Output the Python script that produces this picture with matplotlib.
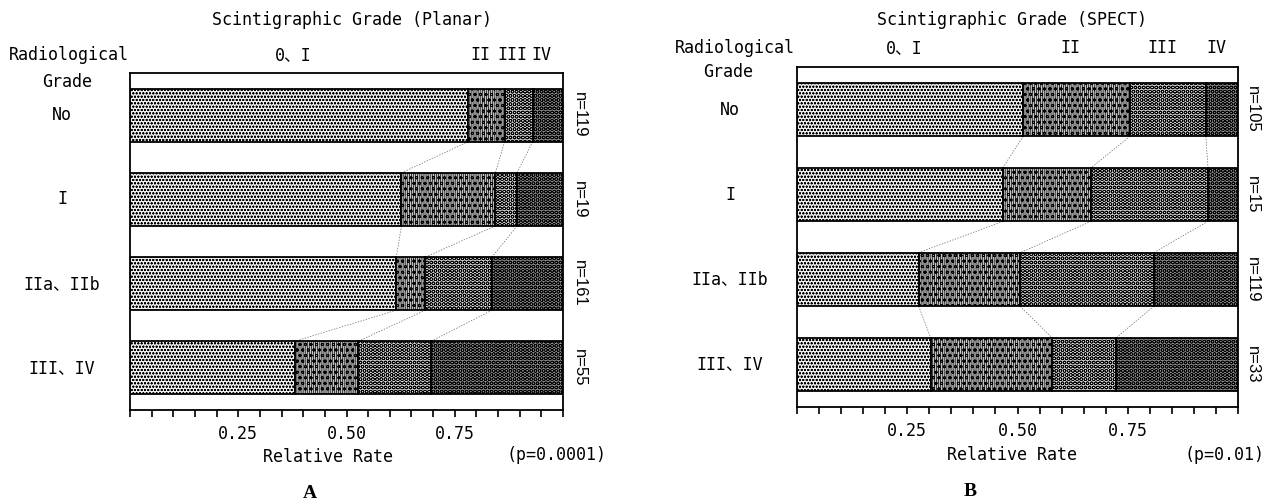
import matplotlib
matplotlib.use("Agg")
from matplotlib import pyplot as plt
from matplotlib import transforms
import numpy as np

rows = ["No", "I", "IIa、IIb", "III、IV"]
grades = ["0、I", "II", "III", "IV"]

# relative rate of each scintigraphic grade (0.I, II, III, IV) per radiological grade
planar_no = [0.781, 0.084, 0.065, 0.070]
planar_1 = [0.627, 0.217, 0.050, 0.106]
planar_2 = [0.615, 0.067, 0.154, 0.164]
planar_34 = [0.380, 0.147, 0.168, 0.305]
planar_n = [119, 19, 161, 55]

spect_no = [0.513, 0.242, 0.172, 0.073]
spect_1 = [0.467, 0.200, 0.265, 0.068]
spect_2 = [0.276, 0.230, 0.303, 0.191]
spect_34 = [0.303, 0.275, 0.146, 0.276]
spect_n = [105, 15, 119, 33]

faces = ["#eeeeee", "#c4c4c4", "#d4d4d4", "#8c8c8c"]
hatches = ["ooooo", "||||||||ooo", "OOOO", "OOOO"]

plt.rcParams['font.family'] = ['DejaVu Sans Mono', 'Noto Sans CJK JP']
plt.rcParams['hatch.linewidth'] = 0.5
fs = 12

W, H = 1270, 501
fig = plt.figure(figsize=(W/100, H/100), dpi=100)


def px(x0, y0, x1, y1):
    return [x0/W, 1 - y1/H, (x1-x0)/W, (y1-y0)/H]


def draw_panel(ax, parts, counts, top_y, lab_x, n_x):
    parts = np.array(parts)
    y = np.arange(len(rows))
    h = 0.63
    left = np.zeros(len(rows))
    for k in range(len(grades)):
        ax.barh(y, parts[:, k], left=left, height=h, color=faces[k],
                hatch=hatches[k], edgecolor="black", linewidth=1.3, zorder=2)
        left += parts[:, k]
    cum = np.cumsum(parts, axis=1)
    # thin dotted lines joining the boundaries of adjacent bars
    for i in range(len(rows)-1):
        for k in range(len(grades)-1):
            ax.plot([cum[i, k], cum[i+1, k]], [y[i]+h/2, y[i+1]-h/2],
                    ls=(0, (2, 2)), lw=0.5, color="#666666", zorder=1)
    ax.set_xlim(0, 1)
    ax.set_ylim(len(rows)-0.5, -0.5)
    ax.set_yticks([])
    ax.set_xticks([0.25, 0.5, 0.75])
    ax.set_xticklabels(["0.25", "0.50", "0.75"], fontsize=fs)
    ax.set_xticks(np.arange(0, 1.0001, 0.05), minor=True)
    ax.tick_params(axis="x", which="both", direction="out", length=5, width=1.2, pad=6)
    for s in ax.spines.values():
        s.set_linewidth(1.3)

    tr = transforms.blended_transform_factory(ax.transAxes, ax.transData)
    for i, r in enumerate(rows):
        ax.text(lab_x, y[i], r, transform=tr, ha="center", va="center", fontsize=fs)
        ax.text(n_x, y[i], "n=%d" % counts[i], transform=tr, ha="center", va="center",
                rotation=-90, fontsize=fs, family="Liberation Sans")
    # grade labels over the first bar's segments, nudged a little left
    centers = cum[0] - parts[0]/2
    tr2 = transforms.blended_transform_factory(ax.transData, ax.transAxes) + \
        transforms.ScaledTranslation(-6/100, 0, fig.dpi_scale_trans)
    for k, g in enumerate(grades):
        ax.text(centers[k], top_y, g, transform=tr2, ha="center", va="center", fontsize=fs)


axA = fig.add_axes(px(130, 73, 563, 410))
draw_panel(axA, [planar_no, planar_1, planar_2, planar_34], planar_n, 1.053, -0.157, 1.039)
axB = fig.add_axes(px(797, 67, 1238, 407))
draw_panel(axB, [spect_no, spect_1, spect_2, spect_34], spect_n, 1.056, -0.152, 1.032)


def ftext(x, y, s, **kw):
    fig.text(x/W, 1 - y/H, s, ha="center", va="center", **kw)


ftext(352, 20, "Scintigraphic Grade (Planar)", fontsize=fs)
ftext(1012, 20, "Scintigraphic Grade (SPECT)", fontsize=fs)
ftext(69, 55, "Radiological", fontsize=fs)
ftext(67, 82, "Grade", fontsize=fs)
ftext(735, 48, "Radiological", fontsize=fs)
ftext(728, 72, "Grade", fontsize=fs)
ftext(328, 457, "Relative Rate", fontsize=fs)
ftext(556, 455, "(p=0.0001)", fontsize=fs)
ftext(1012, 455, "Relative Rate", fontsize=fs)
ftext(1225, 455, "(p=0.01)", fontsize=fs)
ftext(310, 493, "A", fontsize=14, family="Liberation Serif", fontweight="bold")
ftext(970, 492, "B", fontsize=14, family="Liberation Serif", fontweight="bold")

fig.savefig("out.png", dpi=100)
